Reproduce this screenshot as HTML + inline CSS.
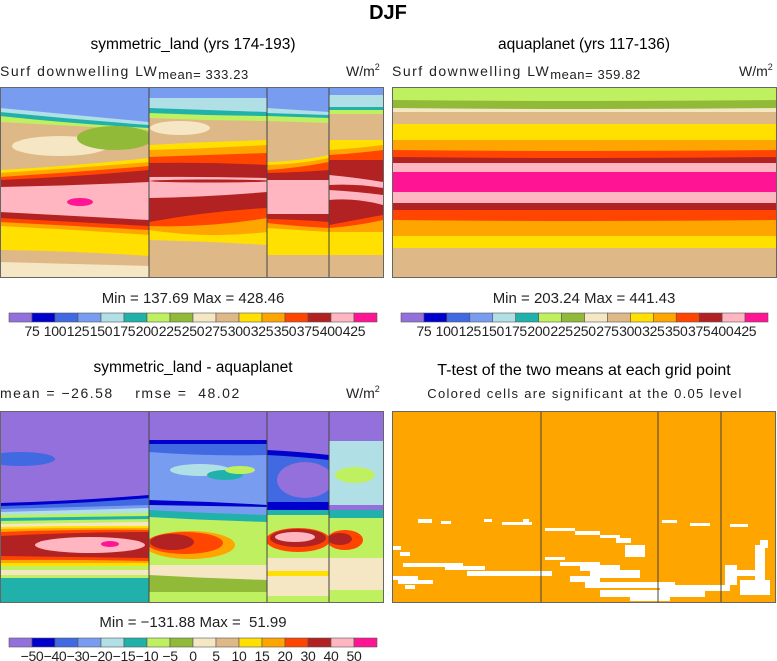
<!DOCTYPE html>
<html><head><meta charset="utf-8"><style>
html,body{margin:0;padding:0;background:#fff;}
svg{display:block;font-family:"Liberation Sans",sans-serif;}
.sub{font-size:14px;letter-spacing:1.5px;fill:#222;}
.subm{font-size:13px;letter-spacing:0.6px;}
</style></head><body>
<svg id="fig" width="777" height="661" viewBox="0 0 777 661" xmlns="http://www.w3.org/2000/svg">
<text x="388" y="19" text-anchor="middle" font-size="20" font-weight="bold">DJF</text>
<text x="193" y="49" text-anchor="middle" font-size="15.5">symmetric_land (yrs 174-193)</text>
<text x="0" y="76" class="sub">Surf downwelling LW<tspan class="subm" dy="3">mean= 333.23</tspan></text>
<text x="346" y="76" font-size="14" fill="#222">W/m<tspan font-size="9" dy="-6">2</tspan></text>
<text x="584" y="49" text-anchor="middle" font-size="15.5">aquaplanet (yrs 117-136)</text>
<text x="392" y="76" class="sub">Surf downwelling LW<tspan class="subm" dy="3">mean= 359.82</tspan></text>
<text x="739" y="76" font-size="14" fill="#222">W/m<tspan font-size="9" dy="-6">2</tspan></text>
<text x="193" y="303" text-anchor="middle" font-size="15" fill="#222">Min = 137.69 Max = 428.46</text>
<text x="584" y="303" text-anchor="middle" font-size="15" fill="#222">Min = 203.24 Max = 441.43</text>
<text x="193" y="372" text-anchor="middle" font-size="15.5">symmetric_land - aquaplanet</text>
<text x="0" y="398" class="sub" style="white-space:pre" xml:space="preserve">mean = −26.58    rmse =  48.02</text>
<text x="346" y="398" font-size="14" fill="#222">W/m<tspan font-size="9" dy="-6">2</tspan></text>
<text x="584" y="375" text-anchor="middle" font-size="16">T-test of the two means at each grid point</text>
<text x="585" y="398" text-anchor="middle" font-size="13" letter-spacing="1.3" fill="#222">Colored cells are significant at the 0.05 level</text>
<text x="193" y="627" text-anchor="middle" font-size="15" fill="#222" style="white-space:pre" xml:space="preserve">Min = −131.88 Max =  51.99</text>
<g id="layers"></g>
</svg>
<script>
const palette = ["#9370DB","#0000CD","#4169E1","#789CF0","#B0E0E6","#20B2AA","#BFF060","#90BA38","#F5E6C4","#DEB887","#FFE000","#FFA500","#FF4500","#B22222","#FFB6C1","#FF1493"];
const absLevels = ["75","100","125","150","175","200","225","250","275","300","325","350","375","400","425"];
const diffLevels = ["−50","−40","−30","−20","−15","−10","−5","0","5","10","15","20","30","40","50"];

const p1SegA = [[3,87,87,87],[4,108,115,122],[5,112,119,125],[6,116,123,128],[9,122,126,130],['e',8,60,146,48,10],['e',7,115,138,38,12],[10,170,165,158],[11,173,168,162],[12,177,172,166],[13,180,176,170],[14,187,185,182],['e',15,80,202,13,4],[13,212,216,220],[12,218,222,226],[11,222,226,230],[10,226,230,235],[9,250,252,256],[8,262,264,266]];
const p1SegB = [[3,87,87,87],[4,98,98,98],[5,108,110,112],[6,113,115,116],[9,118,120,121],['e',8,180,128,30,7],[10,145,142,140],[11,150,148,145],[12,157,155,153],[13,163,163,165],[14,177,177,178],['e',13,210,181,60,1.5],[13,198,196,192],[12,222,213,208],[11,226,225,218],[10,230,235,232],[9,240,242,245]];
const p1SegC = [[3,87,87,87],[4,108,110,112],[5,113,114,115],[6,116,117,118],[9,121,122,123],[10,162,160,155],[11,165,163,158],[12,170,167,162],[13,173,172,170],[14,180,180,180],[13,214,214,214],[12,219,220,222],[11,223,226,228],[10,228,230,232],[9,255,255,255]];
const p1SegD = [[3,87,87,87],[4,95,95,95],[5,107,107,107],[6,110,110,110],[9,114,114,114],[10,140,140,140],[11,150,148,145],[12,155,153,150],[13,160,160,160],[14,175,178,182],[13,185,185,188],[14,190,192,195],[13,200,200,205],[12,225,220,215],[11,228,225,220],[10,232,232,232],[9,255,255,255]];
const p2Seg = [[6,87,87,87],[7,100,101,100],[8,108,109,108],[9,112,112,112],[10,124,124,124],[11,140,140,140],[12,150,151,150],[13,157,158,157],[14,163,163,163],[15,172,172,172],[14,192,192,192],[13,203,203,203],[12,210,210,210],[11,220,221,220],[10,236,236,236],[9,248,248,248]];
const p3SegA = [[0,411,411,411],['e',2,20,459,35,7],[1,503,500,495],[2,506,503,498],[3,509,507,505],[4,512,510,508],[6,515,514,513],[5,518,517,516],[6,521,520,519],[8,524,523,522],[10,527,526,526],[11,529,528,528],[12,532,530,530],[13,536,533,532],['e',14,90,545,55,8],['e',15,110,544,9,3],[12,556,557,558],[11,560,560,561],[10,563,563,563],[6,566,566,566],[8,570,570,570],[6,575,575,575],[5,578,578,578]];
const p3SegB = [[0,411,411,411],[1,440,440,440],[2,444,444,444],[3,452,455,455],['e',4,200,470,30,6],['e',5,225,475,18,5],['e',6,240,470,15,4],[1,500,502,505],[3,505,506,507],[5,510,513,515],[6,517,520,522],['e',11,190,545,45,14],['e',12,185,543,38,11],['e',13,172,542,22,8],[8,565,565,565],[7,575,578,580],[6,592,592,592]];
const p3SegC = [[0,411,411,411],[1,450,452,455],[2,455,457,460],['e',0,305,480,28,18],[1,502,502,502],[5,510,510,510],[6,515,515,515],['e',12,298,540,32,12],['e',13,298,538,28,9],['e',14,295,537,20,5],[8,558,558,558],[10,571,571,571],[8,576,576,576],[6,596,596,596]];
const p3SegD = [[0,411,411,411],[4,441,441,441],['e',6,355,475,20,8],[0,505,505,505],[5,510,510,510],[6,518,518,518],['e',12,345,540,18,10],['e',13,340,539,12,6],[8,558,558,558],[6,590,590,590]];
const p4White = [[418,519,14,4],[441,521,10,3],[484,519,8,3],[502,522,30,3],[523,519,6,3],[545,528,30,3],[575,531,25,4],[600,535,20,3],[616,538,15,5],[625,545,20,12],[393,546,8,4],[400,552,10,4],[403,563,60,4],[445,566,40,4],[467,571,85,5],[393,576,25,4],[398,580,35,4],[405,585,10,4],[545,557,20,3],[560,562,40,4],[580,565,40,6],[590,570,50,8],[570,576,30,6],[585,582,90,6],[600,590,80,7],[630,597,40,4],[660,585,70,6],[665,591,40,6],[725,565,12,20],[735,570,30,6],[740,580,30,15],[755,545,10,50],[760,540,8,8],[662,520,15,3],[690,523,20,3],[730,524,18,3]];

const NS = "http://www.w3.org/2000/svg";
const root = document.getElementById('layers');
function mk(tag, attrs){ const e=document.createElementNS(NS,tag); for(const k in attrs) e.setAttribute(k,attrs[k]); return e; }

function drawSeg(g, x0, x1, yBot, layers){
  const xm=(x0+x1)/2;
  layers.forEach((L)=>{
    let el;
    if(L[0]==='e'){
      el=mk('ellipse',{cx:L[2],cy:L[3],rx:L[4],ry:L[5],fill:palette[L[1]]});
      
      
    } else {
      el=mk('path',{d:`M${x0},${L[1]} Q${xm},${2*L[2]-(L[1]+L[3])/2} ${x1},${L[3]} L${x1},${yBot} L${x0},${yBot} Z`,fill:palette[L[0]]});
      
      
    }
    g.appendChild(el);
  });
}
let clipN=0;
function segGroup(x0,x1,y0,y1){
  const id='c'+(clipN++);
  const cp=mk('clipPath',{id:id}); cp.appendChild(mk('rect',{x:x0,y:y0,width:x1-x0,height:y1-y0}));
  root.appendChild(cp);
  const g=mk('g',{'clip-path':`url(#${id})`});
  root.appendChild(g); return g;
}
function panel(name, segs, x0,x1,y0,y1, dividers){
  segs.forEach(s=>{ const g=segGroup(s[0],s[1],y0,y1);
    
    
    drawSeg(g,s[0],s[1],y1,s[2]); });
  dividers.forEach(x=>{ const l=mk('line',{x1:x,y1:y0,x2:x,y2:y1,stroke:'#444','stroke-width':1});
    
    
    root.appendChild(l); });
  const r=mk('rect',{x:x0+0.5,y:y0+0.5,width:x1-x0-1,height:y1-y0-1,fill:'none',stroke:'#666','stroke-width':1});
  
  
  root.appendChild(r);
}
panel('panel-symmetric-land',[[0,149,p1SegA],[149,267,p1SegB],[267,329,p1SegC],[329,383,p1SegD]],0,384,87,278,[149,267,329]);
panel('panel-aquaplanet',[[392,776,p2Seg]],392,777,87,278,[]);
panel('panel-difference',[[0,149,p3SegA],[149,267,p3SegB],[267,329,p3SegC],[329,383,p3SegD]],0,384,411,603,[149,267,329]);

(function(){
  const bg=mk('rect',{x:392,y:411,width:384,height:192,fill:'#FFA500'});
  
  
  root.appendChild(bg);
  p4White.forEach(w=>{ const r=mk('rect',{x:w[0],y:w[1],width:w[2],height:w[3],fill:'#fff'});
    
    
    root.appendChild(r); });
  [541,658,721].forEach(x=>{ const l=mk('line',{x1:x,y1:411,x2:x,y2:603,stroke:'#444'});
    
    
    root.appendChild(l); });
  const fr=mk('rect',{x:392.5,y:411.5,width:383,height:191,fill:'none',stroke:'#666'});
  
  
  root.appendChild(fr);
})();

function colorbar(name,x0,x1,y,labels){
  const w=(x1-x0)/16;
  for(let i=0;i<16;i++){
    const r=mk('rect',{x:x0+i*w,y:y,width:w,height:9,fill:palette[i],stroke:'#555','stroke-width':0.6});
    
    
    root.appendChild(r);
  }
  labels.forEach((t,i)=>{
    const tx=mk('text',{x:x0+(i+1)*w,y:y+23,'text-anchor':'middle','font-size':14,fill:'#222','letter-spacing':-0.3});
    tx.textContent=t;
    
    
    root.appendChild(tx);
  });
}
colorbar('colorbar-symmetric-land',9,377,313,absLevels);
colorbar('colorbar-aquaplanet',401,768,313,absLevels);
colorbar('colorbar-difference',9,377,638,diffLevels);
</script>
</body></html>
